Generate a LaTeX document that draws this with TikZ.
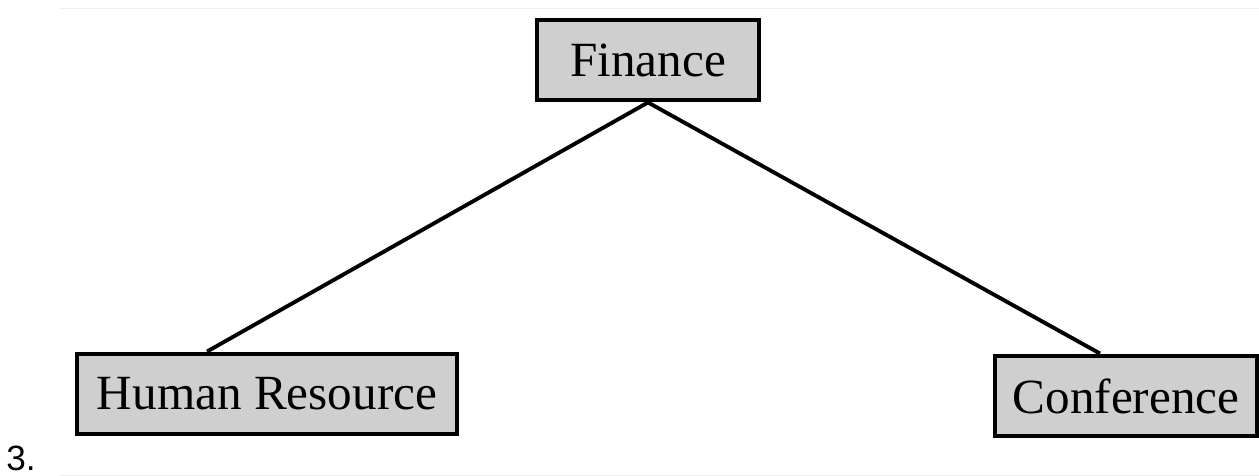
\documentclass[tikz,border=0pt]{standalone}
\usepackage{fontspec}
\setmainfont{Liberation Serif}
\newfontfamily\numfont{Liberation Sans}
\tikzset{
  unit/.style={draw, line width=2.8pt, fill=gray!38, minimum height=1.6cm,
    inner sep=0pt, font=\fontsize{28}{30}\selectfont},
}
\begin{document}
\begin{tikzpicture}[x=0.02cm,y=-0.02cm]
      \useasboundingbox (0,0) rectangle (1259,476);
      \draw[gray!12] (60,8) -- (1259,8) (60,475) -- (1259,475);
      \draw
        (648,60) node[unit, minimum width=4.44cm] (fin){Finance}
        (267,394) node[unit, minimum width=7.6cm] (hr){Human Resource}
        (1126,396) node[unit, minimum width=5.24cm] (conf){Conference};
      \begin{scope}[-, line width=2.2pt]
        \draw (fin.south) to ([xshift=-1.2cm]hr.north);
        \draw (fin.south) to ([xshift=-0.52cm]conf.north);
      \end{scope}
      \node[inner sep=0pt, font=\numfont\fontsize{20}{22}\selectfont] (num) at (21,458) {3.};
    \end{tikzpicture}
\end{document}
